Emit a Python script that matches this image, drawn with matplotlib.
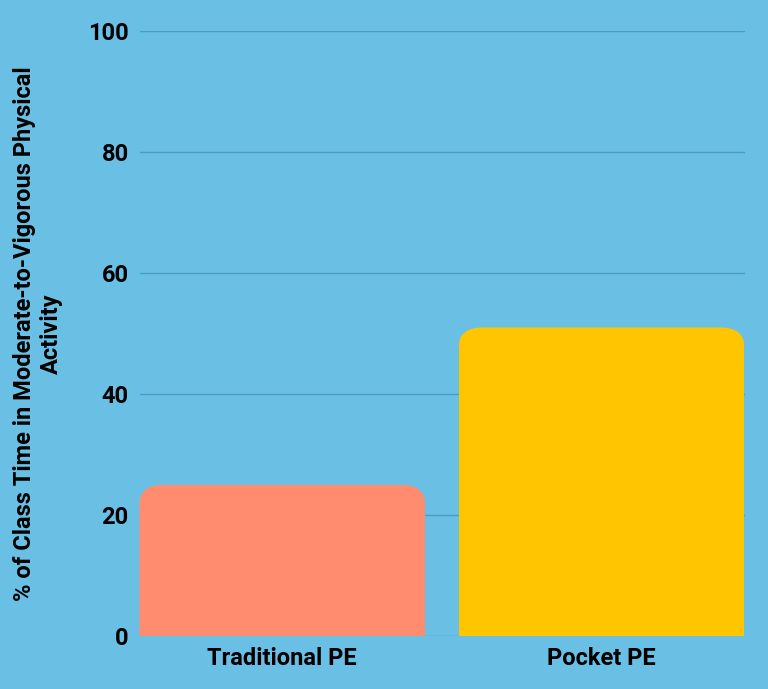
import matplotlib
matplotlib.use("Agg")
import matplotlib.pyplot as plt
from matplotlib.patches import FancyBboxPatch

categories = ["Traditional PE", "Pocket PE"]
values = [25, 51]
colors = ["#FF8C6E", "#FFC500"]
yticks = [0, 20, 40, 60, 80, 100]

plt.rcParams['font.family'] = ['Roboto', 'DejaVu Sans']
bg = "#6ABFE5"
fig = plt.figure(figsize=(7.68, 6.89), dpi=100, facecolor=bg)
ax = fig.add_axes([0.182, 0.077, 0.788, 0.878], facecolor=bg)
ax.set_xlim(0, 1)
ax.set_ylim(0, 100)
centers = [0.2355, 0.763]
width = 0.472
for c, v, col in zip(centers, values, colors):
    bars = ax.bar(c, v, width, color="none")
    b = bars[0]
    x0, y0, w, h = b.get_x(), b.get_y(), b.get_width(), b.get_height()
    p = FancyBboxPatch((x0, y0 - 5), w, h + 5,
                       boxstyle="round,pad=0,rounding_size=0.04",
                       mutation_aspect=100 / 0.878 * 0.788 * 689 / 768,
                       facecolor=col, edgecolor="none", zorder=3)
    ax.add_patch(p)
    p.set_clip_path(b)
ax.set_yticks(yticks)
ax.set_yticklabels([str(t) for t in yticks], fontsize=17, fontweight="bold")
ax.set_xticks(centers)
ax.set_xticklabels(categories, fontsize=17, fontweight="bold")
ax.yaxis.grid(True, color="#4A9CC6", linewidth=1)
ax.set_axisbelow(True)
for s in ax.spines.values():
    s.set_visible(False)
ax.tick_params(length=0, pad=8)
ax.set_ylabel("% of Class Time in Moderate-to-Vigorous Physical\nActivity",
              fontsize=17, fontweight="bold", labelpad=18)
fig.savefig("out.png", dpi=100, facecolor=bg)
